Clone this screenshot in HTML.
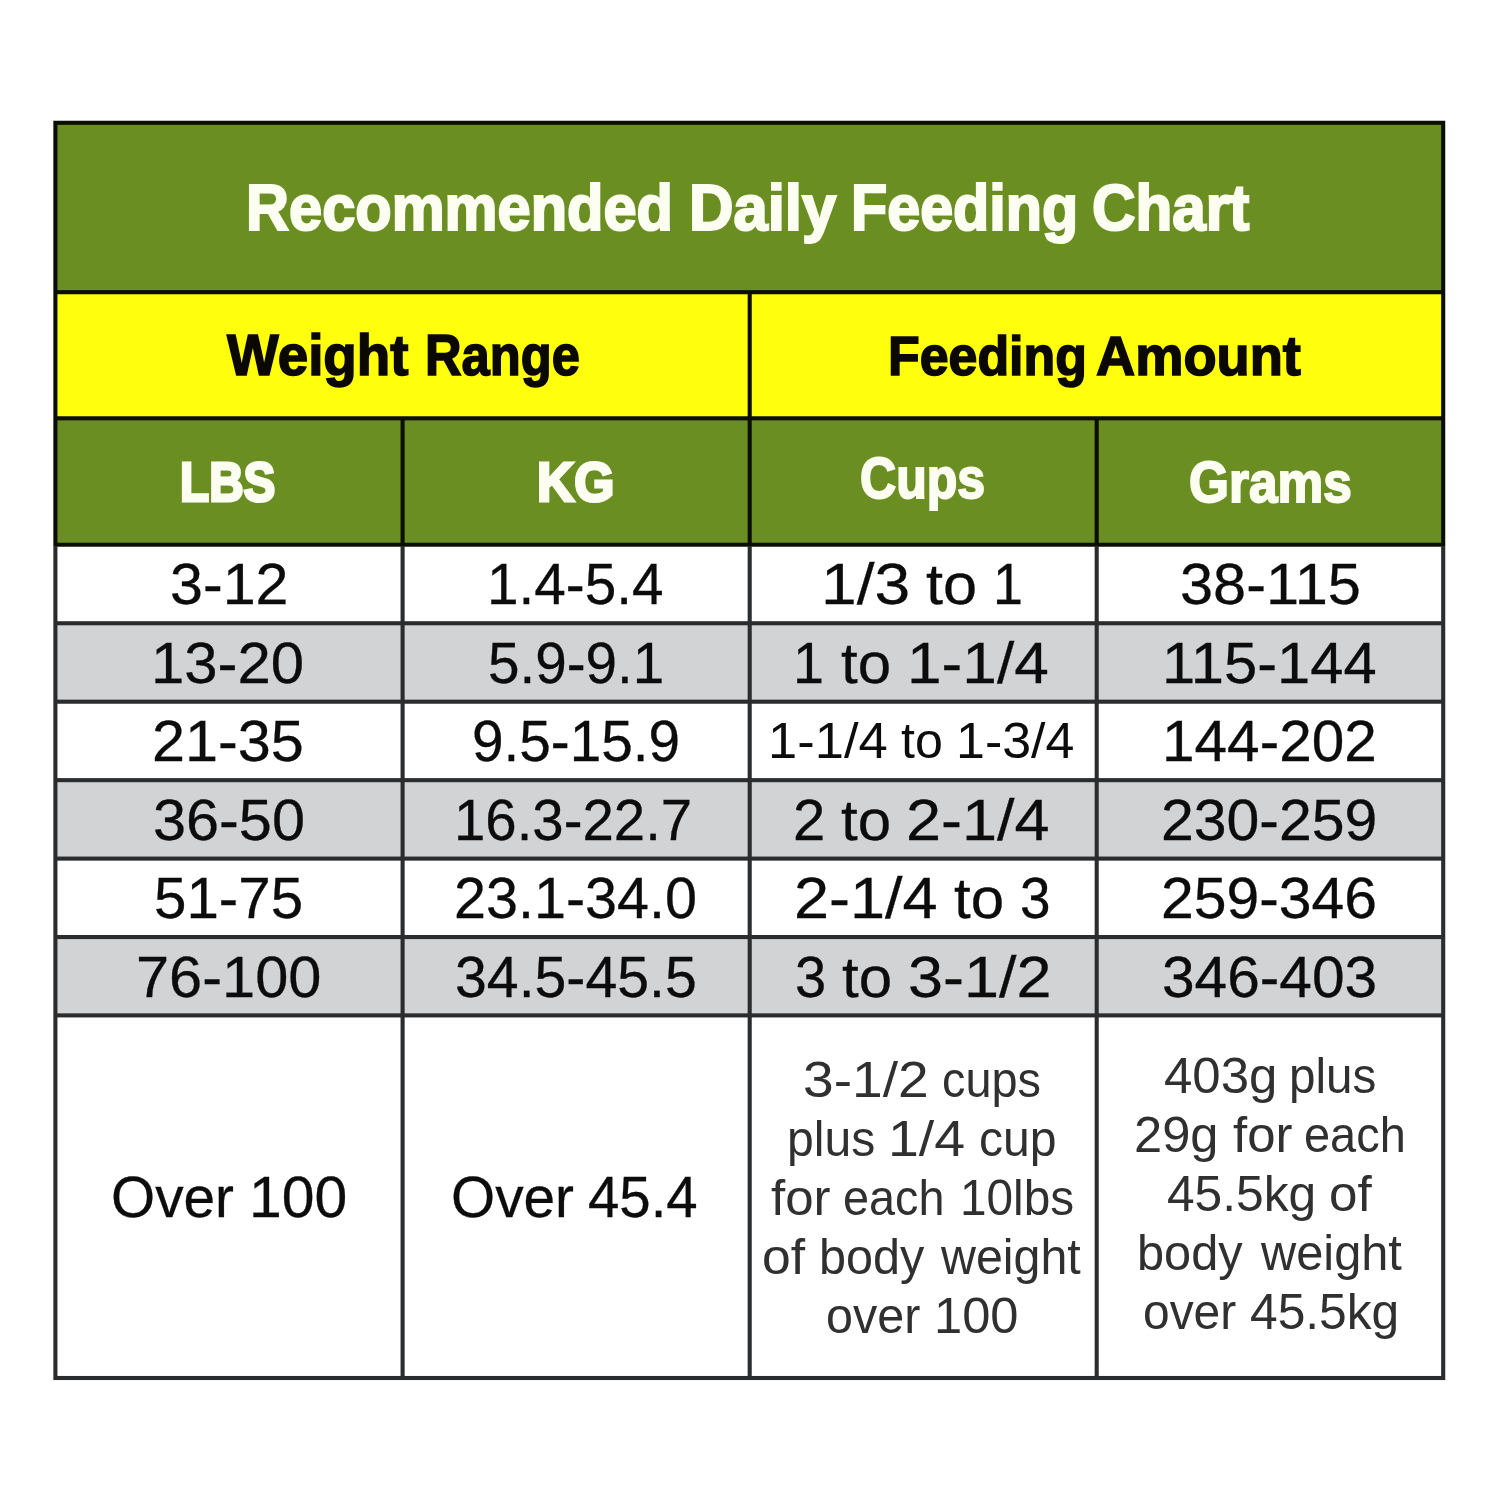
<!DOCTYPE html>
<html lang="en"><head><meta charset="utf-8"><title>Recommended Daily Feeding Chart</title>
<style>
html,body{margin:0;padding:0;background:#fff;}
body{width:1500px;height:1500px;position:relative;overflow:hidden;font-family:"Liberation Sans",sans-serif;}
svg.bg{position:absolute;left:0;top:0;}
.tbl,.tbl div{position:static;margin:0;padding:0;line-height:0;font-size:0;}
.t{position:absolute;white-space:nowrap;transform-origin:0 0;display:block;}
</style></head><body>
<svg class="bg" width="1500" height="1500" viewBox="0 0 1500 1500">
<rect x="53.35" y="120.75" width="1391.90" height="426.10" fill="#0b0f02"/>
<rect x="53.35" y="546.84" width="1391.90" height="833.21" fill="#2b2c2e"/>
<rect x="57.45" y="124.85" width="1383.70" height="165.30" fill="#6b8e23"/>
<rect x="57.45" y="294.25" width="690.20" height="122.00" fill="#ffff0d"/>
<rect x="751.75" y="294.25" width="689.40" height="122.00" fill="#ffff0d"/>
<rect x="57.45" y="420.35" width="343.10" height="122.40" fill="#6b8e23"/>
<rect x="404.65" y="420.35" width="343.00" height="122.40" fill="#6b8e23"/>
<rect x="751.75" y="420.35" width="342.90" height="122.40" fill="#6b8e23"/>
<rect x="1098.75" y="420.35" width="342.40" height="122.40" fill="#6b8e23"/>
<rect x="57.45" y="546.85" width="343.10" height="74.35" fill="#ffffff"/>
<rect x="404.65" y="546.85" width="343.00" height="74.35" fill="#ffffff"/>
<rect x="751.75" y="546.85" width="342.90" height="74.35" fill="#ffffff"/>
<rect x="1098.75" y="546.85" width="342.40" height="74.35" fill="#ffffff"/>
<rect x="57.45" y="625.30" width="343.10" height="74.35" fill="#d2d3d5"/>
<rect x="404.65" y="625.30" width="343.00" height="74.35" fill="#d2d3d5"/>
<rect x="751.75" y="625.30" width="342.90" height="74.35" fill="#d2d3d5"/>
<rect x="1098.75" y="625.30" width="342.40" height="74.35" fill="#d2d3d5"/>
<rect x="57.45" y="703.75" width="343.10" height="74.35" fill="#ffffff"/>
<rect x="404.65" y="703.75" width="343.00" height="74.35" fill="#ffffff"/>
<rect x="751.75" y="703.75" width="342.90" height="74.35" fill="#ffffff"/>
<rect x="1098.75" y="703.75" width="342.40" height="74.35" fill="#ffffff"/>
<rect x="57.45" y="782.20" width="343.10" height="74.35" fill="#d2d3d5"/>
<rect x="404.65" y="782.20" width="343.00" height="74.35" fill="#d2d3d5"/>
<rect x="751.75" y="782.20" width="342.90" height="74.35" fill="#d2d3d5"/>
<rect x="1098.75" y="782.20" width="342.40" height="74.35" fill="#d2d3d5"/>
<rect x="57.45" y="860.65" width="343.10" height="74.35" fill="#ffffff"/>
<rect x="404.65" y="860.65" width="343.00" height="74.35" fill="#ffffff"/>
<rect x="751.75" y="860.65" width="342.90" height="74.35" fill="#ffffff"/>
<rect x="1098.75" y="860.65" width="342.40" height="74.35" fill="#ffffff"/>
<rect x="57.45" y="939.10" width="343.10" height="74.25" fill="#d2d3d5"/>
<rect x="404.65" y="939.10" width="343.00" height="74.25" fill="#d2d3d5"/>
<rect x="751.75" y="939.10" width="342.90" height="74.25" fill="#d2d3d5"/>
<rect x="1098.75" y="939.10" width="342.40" height="74.25" fill="#d2d3d5"/>
<rect x="57.45" y="1017.45" width="343.10" height="358.50" fill="#ffffff"/>
<rect x="404.65" y="1017.45" width="343.00" height="358.50" fill="#ffffff"/>
<rect x="751.75" y="1017.45" width="342.90" height="358.50" fill="#ffffff"/>
<rect x="1098.75" y="1017.45" width="342.40" height="358.50" fill="#ffffff"/>
</svg>
<div class="tbl" role="table" aria-label="Recommended Daily Feeding Chart">
 <div role="row">
  <div role="columnheader"><span class="t" style="left:245.55px;top:170.10px;font-size:63.91px;line-height:77px;font-weight:700;-webkit-text-stroke:2.2px #fdfef2;color:#fdfef2;transform:scaleX(0.9319)">Recommended</span> <span class="t" style="left:689.06px;top:170.10px;font-size:63.91px;line-height:77px;font-weight:700;-webkit-text-stroke:2.2px #fdfef2;color:#fdfef2;transform:scaleX(0.9640)">Daily</span> <span class="t" style="left:850.77px;top:170.10px;font-size:63.91px;line-height:77px;font-weight:700;-webkit-text-stroke:2.2px #fdfef2;color:#fdfef2;transform:scaleX(0.9270)">Feeding</span> <span class="t" style="left:1091.63px;top:170.10px;font-size:63.91px;line-height:77px;font-weight:700;-webkit-text-stroke:2.2px #fdfef2;color:#fdfef2;transform:scaleX(0.9426)">Chart</span></div>
 </div>
 <div role="row">
  <div role="columnheader"><span class="t" style="left:227.48px;top:322.40px;font-size:56.52px;line-height:68px;font-weight:700;-webkit-text-stroke:1.6px #0a0800;color:#0a0800;transform:scaleX(0.9688)">Weight</span> <span class="t" style="left:424.72px;top:322.40px;font-size:56.52px;line-height:68px;font-weight:700;-webkit-text-stroke:1.6px #0a0800;color:#0a0800;transform:scaleX(0.8964)">Range</span></div>
  <div role="columnheader"><span class="t" style="left:887.77px;top:322.40px;font-size:56.12px;line-height:67px;font-weight:700;-webkit-text-stroke:1.6px #0a0800;color:#0a0800;transform:scaleX(0.9246)">Feeding</span> <span class="t" style="left:1095.69px;top:322.40px;font-size:56.12px;line-height:67px;font-weight:700;-webkit-text-stroke:1.6px #0a0800;color:#0a0800;transform:scaleX(0.9670)">Amount</span></div>
 </div>
 <div role="row">
  <div role="columnheader"><span class="t" style="left:180.37px;top:448.20px;font-size:56.09px;line-height:67px;font-weight:700;-webkit-text-stroke:3.0px #fdfef2;color:#fdfef2;transform:scaleX(0.8505)">LBS</span></div>
  <div role="columnheader"><span class="t" style="left:536.96px;top:449.00px;font-size:54.96px;line-height:66px;font-weight:700;-webkit-text-stroke:3.0px #fdfef2;color:#fdfef2;transform:scaleX(0.9379)">KG</span></div>
  <div role="columnheader"><span class="t" style="left:860.47px;top:443.70px;font-size:57.14px;line-height:69px;font-weight:700;-webkit-text-stroke:2.0px #fdfef2;color:#fdfef2;transform:scaleX(0.8762)">Cups</span></div>
  <div role="columnheader"><span class="t" style="left:1188.85px;top:447.60px;font-size:57.00px;line-height:68px;font-weight:700;-webkit-text-stroke:2.0px #fdfef2;color:#fdfef2;transform:scaleX(0.9015)">Grams</span></div>
 </div>
 <div role="row">
  <div role="cell"><span class="t" style="left:170.08px;top:550.25px;font-size:57.83px;line-height:69px;-webkit-text-stroke:0.3px #0c0c0c;color:#0c0c0c;transform:scaleX(1.0238)">3-12</span></div>
  <div role="cell"><span class="t" style="left:486.60px;top:550.25px;font-size:57.83px;line-height:69px;-webkit-text-stroke:0.3px #0c0c0c;color:#0c0c0c;transform:scaleX(0.9800)">1.4-5.4</span></div>
  <div role="cell"><span class="t" style="left:821.36px;top:550.25px;font-size:57.83px;line-height:69px;-webkit-text-stroke:0.3px #0c0c0c;color:#0c0c0c;transform:scaleX(1.1085)">1/3</span> <span class="t" style="left:926.24px;top:550.25px;font-size:57.83px;line-height:69px;-webkit-text-stroke:0.3px #0c0c0c;color:#0c0c0c;transform:scaleX(1.0600)">to</span> <span class="t" style="left:993.10px;top:550.25px;font-size:57.83px;line-height:69px;-webkit-text-stroke:0.3px #0c0c0c;color:#0c0c0c;transform:scaleX(0.9310)">1</span></div>
  <div role="cell"><span class="t" style="left:1179.77px;top:550.25px;font-size:57.83px;line-height:69px;-webkit-text-stroke:0.3px #0c0c0c;color:#0c0c0c;transform:scaleX(1.0287)">38-115</span></div>
 </div>
 <div role="row">
  <div role="cell"><span class="t" style="left:150.67px;top:628.70px;font-size:57.83px;line-height:69px;-webkit-text-stroke:0.3px #0c0c0c;color:#0c0c0c;transform:scaleX(1.0347)">13-20</span></div>
  <div role="cell"><span class="t" style="left:487.88px;top:628.70px;font-size:57.83px;line-height:69px;-webkit-text-stroke:0.3px #0c0c0c;color:#0c0c0c;transform:scaleX(0.9791)">5.9-9.1</span></div>
  <div role="cell"><span class="t" style="left:793.47px;top:628.70px;font-size:57.83px;line-height:69px;-webkit-text-stroke:0.3px #0c0c0c;color:#0c0c0c;transform:scaleX(0.9624)">1</span> <span class="t" style="left:841.26px;top:628.70px;font-size:57.83px;line-height:69px;-webkit-text-stroke:0.3px #0c0c0c;color:#0c0c0c;transform:scaleX(1.0379)">to</span> <span class="t" style="left:906.50px;top:628.70px;font-size:57.83px;line-height:69px;-webkit-text-stroke:0.3px #0c0c0c;color:#0c0c0c;transform:scaleX(1.0755)">1-1/4</span></div>
  <div role="cell"><span class="t" style="left:1161.68px;top:628.70px;font-size:57.83px;line-height:69px;-webkit-text-stroke:0.3px #0c0c0c;color:#0c0c0c;transform:scaleX(1.0327)">115-144</span></div>
 </div>
 <div role="row">
  <div role="cell"><span class="t" style="left:152.19px;top:707.15px;font-size:57.83px;line-height:69px;-webkit-text-stroke:0.3px #0c0c0c;color:#0c0c0c;transform:scaleX(1.0263)">21-35</span></div>
  <div role="cell"><span class="t" style="left:471.59px;top:707.15px;font-size:57.83px;line-height:69px;-webkit-text-stroke:0.3px #0c0c0c;color:#0c0c0c;transform:scaleX(0.9810)">9.5-15.9</span></div>
  <div role="cell"><span class="t" style="left:767.66px;top:710.00px;font-size:50.72px;line-height:61px;color:#0c0c0c;transform:scaleX(1.0355)">1-1/4</span> <span class="t" style="left:901.25px;top:710.00px;font-size:50.72px;line-height:61px;color:#0c0c0c;transform:scaleX(0.9886)">to</span> <span class="t" style="left:956.10px;top:710.00px;font-size:50.72px;line-height:61px;color:#0c0c0c;transform:scaleX(1.0247)">1-3/4</span></div>
  <div role="cell"><span class="t" style="left:1161.76px;top:707.15px;font-size:57.83px;line-height:69px;-webkit-text-stroke:0.3px #0c0c0c;color:#0c0c0c;transform:scaleX(1.0120)">144-202</span></div>
 </div>
 <div role="row">
  <div role="cell"><span class="t" style="left:153.08px;top:785.60px;font-size:57.83px;line-height:69px;-webkit-text-stroke:0.3px #0c0c0c;color:#0c0c0c;transform:scaleX(1.0271)">36-50</span></div>
  <div role="cell"><span class="t" style="left:454.22px;top:785.60px;font-size:57.83px;line-height:69px;-webkit-text-stroke:0.3px #0c0c0c;color:#0c0c0c;transform:scaleX(0.9749)">16.3-22.7</span></div>
  <div role="cell"><span class="t" style="left:793.25px;top:785.60px;font-size:57.83px;line-height:69px;-webkit-text-stroke:0.3px #0c0c0c;color:#0c0c0c;transform:scaleX(1.0037)">2</span> <span class="t" style="left:841.26px;top:785.60px;font-size:57.83px;line-height:69px;-webkit-text-stroke:0.3px #0c0c0c;color:#0c0c0c;transform:scaleX(1.0379)">to</span> <span class="t" style="left:906.01px;top:785.60px;font-size:57.83px;line-height:69px;-webkit-text-stroke:0.3px #0c0c0c;color:#0c0c0c;transform:scaleX(1.0900)">2-1/4</span></div>
  <div role="cell"><span class="t" style="left:1161.21px;top:785.60px;font-size:57.83px;line-height:69px;-webkit-text-stroke:0.3px #0c0c0c;color:#0c0c0c;transform:scaleX(1.0195)">230-259</span></div>
 </div>
 <div role="row">
  <div role="cell"><span class="t" style="left:153.82px;top:864.05px;font-size:57.83px;line-height:69px;-webkit-text-stroke:0.3px #0c0c0c;color:#0c0c0c;transform:scaleX(1.0083)">51-75</span></div>
  <div role="cell"><span class="t" style="left:453.97px;top:864.05px;font-size:57.83px;line-height:69px;-webkit-text-stroke:0.3px #0c0c0c;color:#0c0c0c;transform:scaleX(0.9942)">23.1-34.0</span></div>
  <div role="cell"><span class="t" style="left:793.81px;top:864.05px;font-size:57.83px;line-height:69px;-webkit-text-stroke:0.3px #0c0c0c;color:#0c0c0c;transform:scaleX(1.0900)">2-1/4</span> <span class="t" style="left:954.26px;top:864.05px;font-size:57.83px;line-height:69px;-webkit-text-stroke:0.3px #0c0c0c;color:#0c0c0c;transform:scaleX(1.0379)">to</span> <span class="t" style="left:1020.22px;top:864.05px;font-size:57.83px;line-height:69px;-webkit-text-stroke:0.3px #0c0c0c;color:#0c0c0c;transform:scaleX(0.9480)">3</span></div>
  <div role="cell"><span class="t" style="left:1161.21px;top:864.05px;font-size:57.83px;line-height:69px;-webkit-text-stroke:0.3px #0c0c0c;color:#0c0c0c;transform:scaleX(1.0180)">259-346</span></div>
 </div>
 <div role="row">
  <div role="cell"><span class="t" style="left:135.88px;top:942.50px;font-size:57.83px;line-height:69px;-webkit-text-stroke:0.3px #0c0c0c;color:#0c0c0c;transform:scaleX(1.0297)">76-100</span></div>
  <div role="cell"><span class="t" style="left:455.45px;top:942.50px;font-size:57.83px;line-height:69px;-webkit-text-stroke:0.3px #0c0c0c;color:#0c0c0c;transform:scaleX(0.9893)">34.5-45.5</span></div>
  <div role="cell"><span class="t" style="left:794.98px;top:942.50px;font-size:57.83px;line-height:69px;-webkit-text-stroke:0.3px #0c0c0c;color:#0c0c0c;transform:scaleX(0.9694)">3</span> <span class="t" style="left:842.26px;top:942.50px;font-size:57.83px;line-height:69px;-webkit-text-stroke:0.3px #0c0c0c;color:#0c0c0c;transform:scaleX(1.0379)">to</span> <span class="t" style="left:907.96px;top:942.50px;font-size:57.83px;line-height:69px;-webkit-text-stroke:0.3px #0c0c0c;color:#0c0c0c;transform:scaleX(1.0878)">3-1/2</span></div>
  <div role="cell"><span class="t" style="left:1162.10px;top:942.50px;font-size:57.83px;line-height:69px;-webkit-text-stroke:0.3px #0c0c0c;color:#0c0c0c;transform:scaleX(1.0138)">346-403</span></div>
 </div>
 <div role="row">
  <div role="cell"><span class="t" style="left:110.59px;top:1161.75px;font-size:57.97px;line-height:70px;-webkit-text-stroke:0.3px #0c0c0c;color:#0c0c0c;transform:scaleX(0.9791)">Over</span> <span class="t" style="left:248.74px;top:1161.75px;font-size:57.97px;line-height:70px;-webkit-text-stroke:0.3px #0c0c0c;color:#0c0c0c;transform:scaleX(1.0157)">100</span></div>
  <div role="cell"><span class="t" style="left:451.19px;top:1161.75px;font-size:57.97px;line-height:70px;-webkit-text-stroke:0.3px #0c0c0c;color:#0c0c0c;transform:scaleX(0.9791)">Over</span> <span class="t" style="left:588.02px;top:1161.75px;font-size:57.97px;line-height:70px;-webkit-text-stroke:0.3px #0c0c0c;color:#0c0c0c;transform:scaleX(0.9724)">45.4</span></div>
  <div role="cell"><span class="t" style="left:803.07px;top:1048.80px;font-size:50.72px;line-height:61px;color:#303030;transform:scaleX(1.0871)">3-1/2</span> <span class="t" style="left:941.82px;top:1048.80px;font-size:50.72px;line-height:61px;color:#303030;transform:scaleX(0.9242)">cups</span><br><span class="t" style="left:786.71px;top:1107.75px;font-size:50.72px;line-height:61px;color:#303030;transform:scaleX(0.9487)">plus</span> <span class="t" style="left:887.84px;top:1107.75px;font-size:50.72px;line-height:61px;color:#303030;transform:scaleX(1.0937)">1/4</span> <span class="t" style="left:979.17px;top:1107.75px;font-size:50.72px;line-height:61px;color:#303030;transform:scaleX(0.9490)">cup</span><br><span class="t" style="left:771.49px;top:1166.70px;font-size:50.72px;line-height:61px;color:#303030;transform:scaleX(1.0065)">for</span> <span class="t" style="left:842.83px;top:1166.70px;font-size:50.72px;line-height:61px;color:#303030;transform:scaleX(0.9232)">each</span> <span class="t" style="left:959.92px;top:1166.70px;font-size:50.72px;line-height:61px;color:#303030;transform:scaleX(0.9414)">10lbs</span><br><span class="t" style="left:761.94px;top:1225.65px;font-size:50.72px;line-height:61px;color:#303030;transform:scaleX(1.0178)">of</span> <span class="t" style="left:818.69px;top:1225.65px;font-size:50.72px;line-height:61px;color:#303030;transform:scaleX(0.9566)">body</span> <span class="t" style="left:940.64px;top:1225.65px;font-size:50.72px;line-height:61px;color:#303030;transform:scaleX(0.9528)">weight</span><br><span class="t" style="left:825.86px;top:1284.60px;font-size:50.72px;line-height:61px;color:#303030;transform:scaleX(0.9554)">over</span> <span class="t" style="left:934.40px;top:1284.60px;font-size:50.72px;line-height:61px;color:#303030;transform:scaleX(0.9989)">100</span></div>
  <div role="cell"><span class="t" style="left:1163.68px;top:1044.80px;font-size:50.72px;line-height:61px;color:#303030;transform:scaleX(1.0045)">403g</span> <span class="t" style="left:1288.64px;top:1044.80px;font-size:50.72px;line-height:61px;color:#303030;transform:scaleX(0.9385)">plus</span><br><span class="t" style="left:1134.27px;top:1103.78px;font-size:50.72px;line-height:61px;color:#303030;transform:scaleX(0.9976)">29g</span> <span class="t" style="left:1232.69px;top:1103.78px;font-size:50.72px;line-height:61px;color:#303030;transform:scaleX(1.0048)">for</span> <span class="t" style="left:1303.92px;top:1103.78px;font-size:50.72px;line-height:61px;color:#303030;transform:scaleX(0.9251)">each</span><br><span class="t" style="left:1167.41px;top:1162.76px;font-size:50.72px;line-height:61px;color:#303030;transform:scaleX(0.9793)">45.5kg</span> <span class="t" style="left:1328.66px;top:1162.76px;font-size:50.72px;line-height:61px;color:#303030;transform:scaleX(1.0079)">of</span><br><span class="t" style="left:1137.48px;top:1221.74px;font-size:50.72px;line-height:61px;color:#303030;transform:scaleX(0.9603)">body</span> <span class="t" style="left:1260.94px;top:1221.74px;font-size:50.72px;line-height:61px;color:#303030;transform:scaleX(0.9610)">weight</span><br><span class="t" style="left:1142.88px;top:1280.72px;font-size:50.72px;line-height:61px;color:#303030;transform:scaleX(0.9440)">over</span> <span class="t" style="left:1249.81px;top:1280.72px;font-size:50.72px;line-height:61px;color:#303030;transform:scaleX(0.9800)">45.5kg</span></div>
 </div>
</div>
</body></html>
